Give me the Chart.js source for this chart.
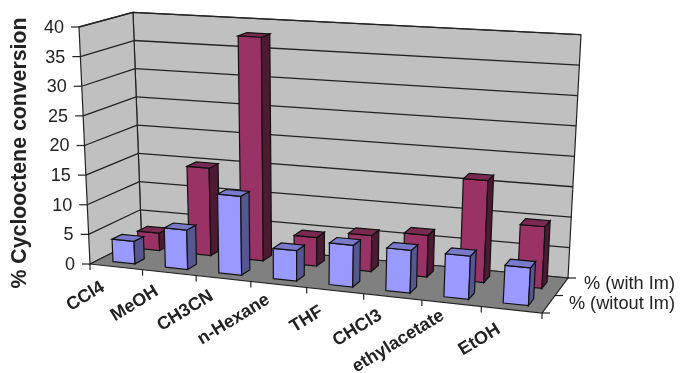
<!DOCTYPE html>
<html>
<head>
<meta charset="utf-8">
<title>Cyclooctene conversion</title>
<script src="https://cdn.jsdelivr.net/npm/chart.js@4/dist/chart.umd.js"></script>
<style>
  html, body { margin: 0; padding: 0; background: #fff; }
  canvas { display: block; }
</style>
</head>
<body>
<canvas id="chart" width="681" height="373"></canvas>
<script>
// data
const categories = ["CCl4", "MeOH", "CH3CN", "n-Hexane", "THF", "CHCl3", "ethylacetate", "EtOH"];
const withoutIm = [3.8, 6.6, 13.1, 5, 6.8, 6.9, 6.9, 6];
const withIm = [3, 15, 38, 4.8, 6, 6.9, 16.7, 10];
const seriesNames = ["% (witout Im)", "% (with Im)"];
const valueTicks = { min: 0, max: 40, step: 5 };

// corners of the 3D box the flat chart area gets projected onto
const box = {
	frontBottomLeft: [90, 264], frontBottomRight: [542, 313],
	frontTopLeft: [79, 27], frontTopRight: [557, 58],
	backBottomLeft: [141.5, 238], backBottomRight: [568, 278],
	backTopLeft: [133, 12.3], backTopRight: [581, 34.7]
};
const perspective = 1.086; // categories widen towards the right
const barDepth = 0.19;
const FONT = '"Liberation Sans", Arial, sans-serif';
const CATEGORY_FONT = "bold 18px " + FONT;

function mix(a, b, f) {
	return [a[0] + (b[0] - a[0]) * f, a[1] + (b[1] - a[1]) * f];
}

// u along categories, d front to back, v bottom to top, all 0..1
function project(u, d, v) {
	const w = u / (u + perspective * (1 - u));
	const bottom = mix(mix(box.frontBottomLeft, box.frontBottomRight, w), mix(box.backBottomLeft, box.backBottomRight, w), d);
	const top = mix(mix(box.frontTopLeft, box.frontTopRight, w), mix(box.backTopLeft, box.backTopRight, w), d);
	return mix(bottom, top, v);
}

function fillPoly(ctx, points, fill, stroke, lineWidth) {
	ctx.beginPath();
	points.forEach((p, i) => i ? ctx.lineTo(p[0], p[1]) : ctx.moveTo(p[0], p[1]));
	ctx.closePath();
	if (fill) {
		ctx.fillStyle = fill;
		ctx.fill();
	}
	if (stroke) {
		ctx.strokeStyle = stroke;
		ctx.lineWidth = lineWidth || 1;
		ctx.stroke();
	}
}

function line(ctx, a, b, color, lineWidth) {
	ctx.beginPath();
	ctx.moveTo(a[0], a[1]);
	ctx.lineTo(b[0], b[1]);
	ctx.strokeStyle = color;
	ctx.lineWidth = lineWidth;
	ctx.stroke();
}

function text(ctx, str, x, y, font, align, angle) {
	ctx.save();
	ctx.translate(x, y);
	ctx.rotate(angle || 0);
	ctx.font = font;
	ctx.fillStyle = "#222";
	ctx.textAlign = align;
	ctx.textBaseline = "middle";
	ctx.fillText(str, 0, 0);
	ctx.restore();
}

// bar controller that draws each bar as a box in the projected space
class Bar3DController extends Chart.BarController {
	draw() {
		const ctx = this.chart.ctx;
		const area = this.chart.chartArea;
		const dataset = this.getDataset();
		const depthCentre = (this.index + 0.5) / this.chart.data.datasets.length;
		const d0 = depthCentre - barDepth / 2;
		const d1 = depthCentre + barDepth / 2;

		this._cachedMeta.data.forEach(bar => {
			const u0 = (bar.x - bar.width / 2 - area.left) / area.width;
			const u1 = (bar.x + bar.width / 2 - area.left) / area.width;
			const vTop = (area.bottom - bar.y) / area.height;
			const vBase = (area.bottom - bar.base) / area.height;

			fillPoly(ctx, [project(u0, d0, vBase), project(u1, d0, vBase), project(u1, d0, vTop), project(u0, d0, vTop)], dataset.backgroundColor, "#111", 1.2);
			fillPoly(ctx, [project(u1, d0, vBase), project(u1, d1, vBase), project(u1, d1, vTop), project(u1, d0, vTop)], dataset.sideColor, "#111", 1.2);
			fillPoly(ctx, [project(u0, d0, vTop), project(u1, d0, vTop), project(u1, d1, vTop), project(u0, d1, vTop)], dataset.topColor, "#111", 1.2);
		});
	}
}
Bar3DController.id = "bar3d";
Bar3DController.defaults = Chart.BarController.defaults;
Bar3DController.overrides = Chart.BarController.overrides;
Chart.register(Bar3DController);

// walls, floor, gridlines and all the axis furniture
const box3d = {
	id: "box3d",
	beforeDatasetsDraw(chart) {
		const ctx = chart.ctx;
		const area = chart.chartArea;
		const xScale = chart.scales.x;
		const yScale = chart.scales.y;
		const toV = value => (area.bottom - yScale.getPixelForValue(value)) / area.height;

		fillPoly(ctx, [box.backBottomLeft, box.backBottomRight, box.backTopRight, box.backTopLeft], "#c0c0c0", "#222", 1.2);
		fillPoly(ctx, [box.frontBottomLeft, box.backBottomLeft, box.backTopLeft, box.frontTopLeft], "#c0c0c0", "#222", 1.2);
		fillPoly(ctx, [box.frontBottomLeft, box.frontBottomRight, box.backBottomRight, box.backBottomLeft], "#808080", "#222", 1.2);

		yScale.ticks.forEach(tick => {
			const v = toV(tick.value);
			const front = project(0, 0, v);
			const corner = project(0, 1, v);
			if (tick.value > 0) {
				line(ctx, front, corner, "#222", 1.3);
				line(ctx, corner, project(1, 1, v), "#222", 1.3);
			}
			line(ctx, front, [front[0] - 8, front[1]], "#222", 1.2);
			text(ctx, tick.label, front[0] - 15, front[1] + 1, "18px " + FONT, "right");
		});

		// category ticks sit on the boundaries, labels in between
		const count = categories.length;
		for (let i = 0; i <= count; i++) {
			const p = project(i / count, 0, 0);
			line(ctx, p, [p[0], p[1] + 6], "#222", 1.2);
		}
		categories.forEach((name, i) => {
			const u = (xScale.getPixelForValue(i) - area.left) / area.width;
			const p = project(u, 0, 0);
			const label = xScale.getLabelForValue(i);
			// longer labels hang a little higher up the axis
			ctx.font = CATEGORY_FONT;
			const w = ctx.measureText(label).width;
			text(ctx, label, p[0] - 16 + 0.07 * w, p[1] + 24 - 0.125 * w, CATEGORY_FONT, "right", -31.5 * Math.PI / 180);
		});

		// series axis along the right edge of the floor
		const names = chart.data.datasets.map(ds => ds.label);
		for (let i = 0; i <= names.length; i++) {
			const p = project(1, i / names.length, 0);
			line(ctx, p, [p[0] + 8, p[1]], "#222", 1.2);
		}
		names.forEach((name, i) => {
			const p = project(1, (i + 0.5) / names.length, 0);
			text(ctx, name, 675, p[1] - i * 3, "18.2px " + FONT, "right");
		});

		text(ctx, "% Cyclooctene conversion", 20, 153, "bold 21.3px " + FONT, "center", -Math.PI / 2);
	}
};

new Chart(document.getElementById("chart"), {
	type: "bar3d",
	data: {
		labels: categories,
		datasets: [
			{
				label: seriesNames[0],
				data: withoutIm,
				backgroundColor: "#9999ff",
				topColor: "#7a7acc",
				sideColor: "#565690"
			},
			{
				label: seriesNames[1],
				data: withIm,
				backgroundColor: "#993366",
				topColor: "#7a2952",
				sideColor: "#4d1a33"
			}
		]
	},
	options: {
		responsive: false,
		animation: false,
		events: [],
		grouped: false,
		barPercentage: 0.42,
		categoryPercentage: 1,
		layout: { padding: 0 },
		plugins: { legend: { display: false }, tooltip: { enabled: false } },
		scales: {
			x: { type: "category", display: false },
			y: {
				type: "linear",
				display: false,
				min: valueTicks.min,
				max: valueTicks.max,
				ticks: { stepSize: valueTicks.step }
			}
		}
	},
	plugins: [box3d]
});
</script>
</body>
</html>
